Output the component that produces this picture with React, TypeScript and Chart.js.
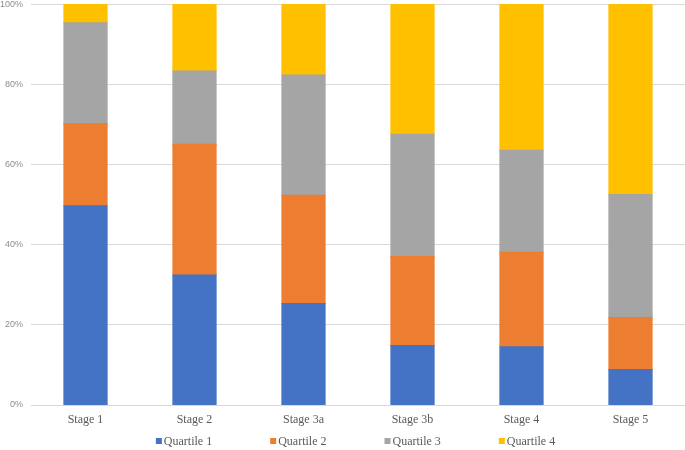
import React, { useEffect, useRef } from "react";
import { Chart, registerables } from "chart.js";

Chart.register(...registerables);

const stages = ["Stage 1", "Stage 2", "Stage 3a", "Stage 3b", "Stage 4", "Stage 5"];
const quartile1 = [49.7, 32.4, 25.3, 14.8, 14.5, 8.8];
const quartile2 = [20.5, 32.6, 27.0, 22.2, 23.6, 13.0];
const quartile3 = [25.1, 18.3, 30.0, 30.5, 25.4, 30.7];
const quartile4 = [4.7, 16.7, 17.7, 32.5, 36.5, 47.5];
const seriesNames = ["Quartile 1", "Quartile 2", "Quartile 3", "Quartile 4"];
const seriesColors = ["#4472C4", "#ED7D31", "#A5A5A5", "#FFC000"];

const bottomLegend = {
  id: "bottomLegend",
  afterDraw(chart: any) {
    const { ctx, chartArea } = chart;
    const datasets = chart.data.datasets;
    ctx.save();
    ctx.font = "12px 'Liberation Serif', 'Times New Roman', serif";
    ctx.textBaseline = "middle";
    ctx.textAlign = "left";
    const box = 6;
    const boxGap = 2;
    const itemGap = 58;
    const widths = datasets.map((d: any) => box + boxGap + ctx.measureText(d.label).width);
    const total = widths.reduce((a: number, b: number) => a + b, 0) + itemGap * (widths.length - 1);
    let x = (chartArea.left + chartArea.right) / 2 - 2.5 - total / 2;
    const y = 441;
    datasets.forEach((d: any, i: number) => {
      ctx.fillStyle = d.backgroundColor;
      ctx.fillRect(x, y - box / 2, box, box);
      ctx.fillStyle = "#595959";
      ctx.fillText(d.label, x + box + boxGap, y + 0.5);
      x += widths[i] + itemGap;
    });
    ctx.restore();
  },
};

export default function App() {
  const ref = useRef<HTMLCanvasElement | null>(null);
  useEffect(() => {
    if (!ref.current) return;
    const values = [quartile1, quartile2, quartile3, quartile4];
    const chart = new Chart(ref.current, {
      type: "bar",
      data: {
        labels: stages,
        datasets: values.map((v, i) => ({
          label: seriesNames[i],
          data: v,
          backgroundColor: seriesColors[i],
          borderWidth: 0,
          inflateAmount: 0.6,
          barPercentage: 0.395,
          categoryPercentage: 1,
        })),
      },
      options: {
        animation: false,
        responsive: true,
        maintainAspectRatio: false,
        layout: { padding: { top: 0, right: 0, left: 0, bottom: 14.6 } },
        plugins: {
          legend: { display: false },
          tooltip: { enabled: false },
        },
        scales: {
          x: {
            stacked: true,
            grid: { display: false, drawTicks: false },
            border: { display: false },
            ticks: {
              padding: 8,
              color: "#595959",
              font: { family: "'Liberation Serif', 'Times New Roman', serif", size: 12 },
            },
          },
          y: {
            stacked: true,
            min: 0,
            max: 100,
            afterFit: (scale: any) => {
              scale.width = 31;
            },
            grid: {
              color: "#D9D9D9",
              lineWidth: 1,
              drawTicks: true,
              tickLength: 8,
              tickColor: "rgba(0,0,0,0)",
            },
            border: { display: false },
            ticks: {
              stepSize: 20,
              padding: 0,
              color: "#8C8C8C",
              font: { family: "'Liberation Sans', Arial, sans-serif", size: 9, lineHeight: 0.9 },
              callback: (v: any) => v + "%",
            },
          },
        },
      },
      plugins: [bottomLegend],
    });
    return () => chart.destroy();
  }, []);
  return (
    <div style={{ position: "fixed", left: 0, top: 0, width: 685, height: 450, background: "#fff" }}>
      <canvas ref={ref} />
    </div>
  );
}
